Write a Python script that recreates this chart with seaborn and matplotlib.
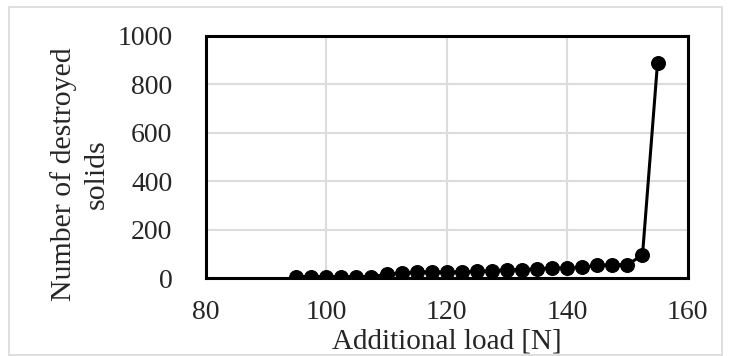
import seaborn as sns
from matplotlib import pyplot as plt
from matplotlib.patches import Rectangle
import pandas as pd

# additional load [N] and number of destroyed solids
load = [95, 97.5, 100, 102.5, 105, 107.5, 110, 112.5, 115, 117.5, 120, 122.5,
        125, 127.5, 130, 132.5, 135, 137.5, 140, 142.5, 145, 147.5, 150, 152.5, 155]
destroyed = [6, 6, 6, 6, 6, 6, 15, 22, 25, 25, 25, 25,
             27, 30, 35, 35, 38, 42, 42, 45, 52, 55, 55, 95, 890]

df = pd.DataFrame({"load": load, "destroyed": destroyed})

sns.set_style("white")
plt.rcParams['font.family'] = ['Liberation Serif', 'DejaVu Serif']

fig = plt.figure(figsize=(7.3, 3.56), dpi=100)
fig.patches.append(Rectangle((0.013, 0.004), 0.976, 0.976, transform=fig.transFigure,
                             fill=False, edgecolor='#d9d9d9', lw=1.2))
ax = fig.add_axes([0.282, 0.219, 0.660, 0.680])

sns.lineplot(data=df, x="load", y="destroyed", ax=ax, color='black', lw=2.2,
             marker='o', markersize=10, markeredgecolor='black')

ax.set_xlim(80, 160)
ax.set_ylim(0, 1000)
ax.set_xticks([80, 100, 120, 140, 160])
ax.set_yticks([0, 200, 400, 600, 800, 1000])
ax.grid(True, color='#dcdcdc', lw=1.5)
ax.set_axisbelow(True)
for s in ax.spines.values():
    s.set_color('black')
    s.set_linewidth(2.2)
ax.tick_params(axis='y', direction='in', length=5, width=1.5, pad=24, labelsize=20)
ax.tick_params(axis='x', length=0, pad=16, labelsize=20)
ax.set_xlabel("Additional load [N]", fontsize=21)
ax.set_ylabel("Number of destroyed\nsolids", fontsize=21.5, linespacing=1.3)
ax.xaxis.set_label_coords(0.5, -0.21)
ax.yaxis.set_label_coords(-0.2, 0.43)

fig.savefig("out.png", dpi=100)
